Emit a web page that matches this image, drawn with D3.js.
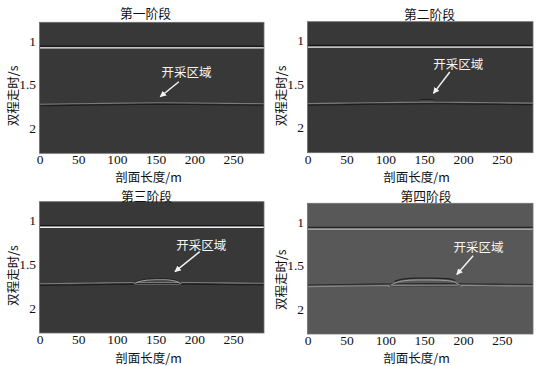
<!DOCTYPE html>
<html>
<head>
<meta charset="utf-8">
<script src="https://cdn.jsdelivr.net/npm/d3@7"></script>
<style>
  html, body { margin: 0; padding: 0; background: #fff; }
  svg { display: block; }
</style>
</head>
<body>
<svg id="chart" width="538" height="366"></svg>
<script>
// ---------------- data ----------------
const stages = ["第一阶段", "第二阶段", "第三阶段", "第四阶段"];
const xTicks = [0, 50, 100, 150, 200, 250];
const yTicks = [1, 1.5, 2];
const xLabel = "剖面长度/m";
const yLabel = "双程走时/s";
const zoneLabel = "开采区域";

// upper reflector (two-way time, s) per stage
const topReflectorT = [1.078, 1.076, 1.078, 1.083];

// lower (coal seam) reflector, same for every stage
const baseX = [0, 40, 80, 120, 160, 200, 240, 290];
const baseT = [1.738, 1.733, 1.728, 1.724, 1.722, 1.724, 1.728, 1.732];

// deformation lens above the mined zone per stage (x in m, t in s)
const lensX = [
  [],
  [145, 162],
  [122, 128, 138, 150, 162, 172, 179, 183],
  [104, 112, 122, 140, 160, 180, 190, 198]
];
const lensT = [
  [],
  [1.682, 1.682],
  [1.722, 1.697, 1.680, 1.674, 1.674, 1.682, 1.700, 1.722],
  [1.724, 1.686, 1.660, 1.648, 1.648, 1.655, 1.676, 1.722]
];

// annotation: label position and arrow (from -> to) in data units
const labelX = [190, 194, 209, 220];
const labelT = [1.352, 1.262, 1.272, 1.288];
const arrowFromX = [180, 183, 207, 213];
const arrowFromT = [1.468, 1.362, 1.358, 1.388];
const arrowToX = [156, 162, 175, 192];
const arrowToT = [1.640, 1.608, 1.586, 1.606];

// ---------------- layout / style ----------------
const panels = [
  { left: 39.5, top: 22.3, w: 224.5, h: 131.0, bg: "#383838", titleX: 106, titleY: 12.0, xlabY: 176.3, ylabY: 95.8 },
  { left: 307.5, top: 21.7, w: 225.5, h: 131.0, bg: "#383838", titleX: 122, titleY: 13.3, xlabY: 176.0, ylabY: 95.8 },
  { left: 39.5, top: 201.7, w: 224.5, h: 131.3, bg: "#383838", titleX: 107, titleY: 195.4, xlabY: 357.0, ylabY: 275.5 },
  { left: 307.5, top: 203.3, w: 225.5, h: 130.7, bg: "#585858", titleX: 118.5, titleY: 195.6, xlabY: 357.8, ylabY: 279.7 }
];
const serif = "'Liberation Serif', 'Times New Roman', serif";
const cjk = "'Noto Sans CJK SC', 'Noto Sans', sans-serif";

const svg = d3.select("#chart");
const defs = svg.append("defs");
defs.append("marker")
  .attr("id", "arrowhead")
  .attr("viewBox", "0 0 10 10")
  .attr("refX", 9).attr("refY", 5)
  .attr("markerWidth", 4.2).attr("markerHeight", 4.2)
  .attr("orient", "auto")
  .append("path").attr("d", "M0,0 L10,5 L0,10 Z").attr("fill", "#f2f2f2");

stages.forEach((name, i) => {
  const p = panels[i];
  const x = d3.scaleLinear().domain([0, 290]).range([p.left, p.left + p.w]);
  const y = d3.scaleLinear().domain([0.785, 2.29]).range([p.top, p.top + p.h]);
  const g = svg.append("g");

  const clipId = "clip" + i;
  defs.append("clipPath").attr("id", clipId)
    .append("rect").attr("x", p.left).attr("y", p.top).attr("width", p.w).attr("height", p.h);

  g.append("rect")
    .attr("x", p.left).attr("y", p.top).attr("width", p.w).attr("height", p.h)
    .attr("fill", p.bg);

  const plot = g.append("g").attr("clip-path", `url(#${clipId})`);
  const line = d3.line().x(d => x(d[0])).y(d => y(d[1])).curve(d3.curveMonotoneX);

  // upper reflector: dark trough then bright peak
  const t1 = topReflectorT[i];
  const upDark = i === 3 ? "#262626" : "#151515";
  const upLight = i === 3 ? "#b8b8b8" : "#eeeeee";
  plot.append("path").datum([[0, t1 - 0.019], [290, t1 - 0.019]])
    .attr("d", line).attr("stroke", upDark).attr("stroke-width", i === 3 ? 1.6 : 1.3).attr("fill", "none");
  plot.append("path").datum([[0, t1], [290, t1]])
    .attr("d", line).attr("stroke", upLight).attr("stroke-width", 1.3).attr("fill", "none");

  // lower reflector
  const base = baseX.map((v, k) => [v, baseT[k]]);
  const baseLight = i === 3 ? "#8a8a8a" : "#7a7a7a";
  const baseDark = i === 3 ? "#2a2a2a" : "#1c1c1c";
  plot.append("path").datum(base.map(d => [d[0], d[1] - 0.012]))
    .attr("d", line).attr("stroke", i === 3 ? baseDark : baseLight).attr("stroke-width", 1.1).attr("fill", "none");
  plot.append("path").datum(base.map(d => [d[0], d[1] + 0.006]))
    .attr("d", line).attr("stroke", i === 3 ? baseLight : baseDark).attr("stroke-width", 1.1).attr("fill", "none");

  // lens above mined zone
  if (lensX[i].length) {
    const lens = lensX[i].map((v, k) => [v, lensT[i][k]]);
    if (i === 1) {
      plot.append("path").datum(lens)
        .attr("d", line).attr("stroke", "#151515").attr("stroke-width", 1.1).attr("fill", "none");
      plot.append("path").datum(lens.map(d => [d[0], d[1] + 0.014]))
        .attr("d", line).attr("stroke", "#5e5e5e").attr("stroke-width", 1.0).attr("fill", "none");
    } else if (i === 2) {
      plot.append("path").datum(lens.map(d => [d[0], d[1] - 0.006]))
        .attr("d", line).attr("stroke", "#222").attr("stroke-width", 1.0).attr("fill", "none");
      plot.append("path").datum(lens.map(d => [d[0], d[1] + 0.006]))
        .attr("d", line).attr("stroke", "#9a9a9a").attr("stroke-width", 1.1).attr("fill", "none");
      plot.append("path").datum(lens.map((d, k) => [d[0], baseT[4] + 0.012 - (k === 0 || k === lens.length - 1 ? 0.012 : 0)]))
        .attr("d", line).attr("stroke", "#6a6a6a").attr("stroke-width", 0.9).attr("fill", "none");
    } else {
      plot.append("path").datum(lens.slice(1, -1).map(d => [d[0], d[1] - 0.002]))
        .attr("d", line).attr("stroke", "#222").attr("stroke-width", 1.2).attr("fill", "none");
      plot.append("path").datum(lens.map(d => [d[0], d[1] + 0.02]))
        .attr("d", line).attr("stroke", "#a0a0a0").attr("stroke-width", 1.0).attr("fill", "none");
      plot.append("path").datum(lens.map((d, k) => [d[0], baseT[4] + 0.02 - (k === 0 || k === lens.length - 1 ? 0.02 : 0)]))
        .attr("d", line).attr("stroke", "#474747").attr("stroke-width", 1.0).attr("fill", "none");
    }
  }

  // frame
  g.append("rect")
    .attr("x", p.left).attr("y", p.top).attr("width", p.w).attr("height", p.h)
    .attr("fill", "none").attr("stroke", "#6e6e6e").attr("stroke-width", 0.8);

  // axes
  const xAxis = g.append("g")
    .attr("transform", `translate(0,${p.top + p.h})`)
    .call(d3.axisBottom(x).tickValues(xTicks).tickSize(0).tickPadding(1.5).tickFormat(d3.format("d")));
  const yAxis = g.append("g")
    .attr("transform", `translate(${p.left},0)`)
    .call(d3.axisLeft(y).tickValues(yTicks).tickSize(0).tickPadding(3.5).tickFormat(d => String(d)));
  [xAxis, yAxis].forEach(a => {
    a.select(".domain").remove();
    a.selectAll("text").attr("font-family", serif).attr("font-size", 13.5).attr("fill", "#111");
  });

  // title
  g.append("text")
    .attr("x", p.left + p.titleX).attr("y", p.titleY)
    .attr("text-anchor", "middle").attr("dominant-baseline", "central")
    .attr("font-family", cjk).attr("font-size", 12.8).attr("fill", "#111")
    .text(name);

  // x label
  g.append("text")
    .attr("x", p.left + 109).attr("y", p.xlabY)
    .attr("text-anchor", "middle").attr("dominant-baseline", "central")
    .attr("font-family", cjk).attr("font-size", 12.5).attr("fill", "#111")
    .text(xLabel);

  // y label
  g.append("text")
    .attr("transform", `translate(${p.left - 27},${p.ylabY}) rotate(-90)`)
    .attr("text-anchor", "middle").attr("dominant-baseline", "central")
    .attr("font-family", cjk).attr("font-size", 12.5).attr("fill", "#111")
    .text(yLabel);

  // annotation
  g.append("text")
    .attr("x", x(labelX[i])).attr("y", y(labelT[i]))
    .attr("text-anchor", "middle").attr("dominant-baseline", "central")
    .attr("font-family", cjk).attr("font-size", 12.5).attr("fill", "#f4f4f4")
    .text(zoneLabel);
  g.append("line")
    .attr("x1", x(arrowFromX[i])).attr("y1", y(arrowFromT[i]))
    .attr("x2", x(arrowToX[i])).attr("y2", y(arrowToT[i]))
    .attr("stroke", "#f2f2f2").attr("stroke-width", 1.5)
    .attr("marker-end", "url(#arrowhead)");
});
</script>
</body>
</html>
